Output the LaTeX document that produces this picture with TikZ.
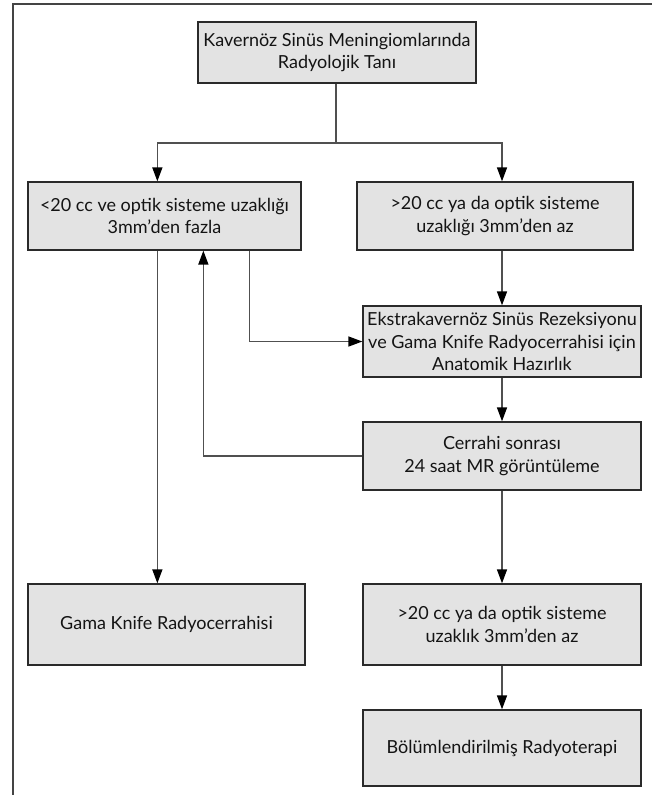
\documentclass[tikz,border=0pt]{standalone}
\usepackage{fontspec}
\setmainfont{Lato}
\usetikzlibrary{arrows.meta,calc}
\definecolor{boxfill}{HTML}{E3E3E3}
\definecolor{boxline}{HTML}{2A2A2A}
\definecolor{conn}{HTML}{505050}
\definecolor{framec}{HTML}{444444}
\definecolor{txt}{HTML}{141414}
\begin{document}
\begin{tikzpicture}[x=1pt,y=-1pt,
  box/.style={draw=boxline,fill=boxfill,line width=1.3pt,rectangle,align=center,
    inner sep=0pt,text=txt,font=\fontsize{18}{22.5}\selectfont},
  conline/.style={draw=conn,line width=1.5pt},
  arr/.style={conline,-{Triangle[length=14pt,width=10pt,fill=black,color=black]}},
  framel/.style={draw=framec,line width=2.4pt}]
\useasboundingbox (0,0) rectangle (652,795);
\fill[white] (0,0) rectangle (652,795);
\draw[framel] (13,795) -- (13,4) -- (652,4);

\node[box,minimum width=278,minimum height=61] (top) at (337,52.5)
  {Kavernöz Sinüs Meningiomlarında\\Radyolojik Tanı};
\node[box,minimum width=273,minimum height=68] (L) at (164.5,216)
  {<20 cc ve optik sisteme uzaklığı\\3mm’den fazla};
\node[box,minimum width=276,minimum height=68] (R) at (495,216)
  {>20 cc ya da optik sisteme\\uzaklığı 3mm’den az};
\node[box,minimum width=278,minimum height=71] (E) at (502,341.5)
  {Ekstrakavernöz Sinüs Rezeksiyonu\\ve Gama Knife Radyocerrahisi için\\Anatomik Hazırlık};
\node[box,minimum width=278,minimum height=68] (C) at (502,456)
  {Cerrahi sonrası\\24 saat MR görüntüleme};
\node[box,minimum width=277,minimum height=81] (G) at (166.5,624.5)
  {Gama Knife Radyocerrahisi};
\node[box,minimum width=278,minimum height=81] (U) at (502,624.5)
  {>20 cc ya da optik sisteme\\uzaklık 3mm’den az};
\node[box,minimum width=278,minimum height=76] (B) at (502,748)
  {Bölümlendirilmiş Radyoterapi};

\coordinate (split) at ([xshift=-1]top.south |- 0,143);
\draw[conline] ([xshift=-1]top.south) -- (split);
\draw[arr] (split) -| ([xshift=130]L.north west);
\draw[arr] (split) -| ([xshift=7]R.north);
\draw[arr] ([xshift=7]R.south) -- (E.north);
\draw[arr] ([xshift=222]L.south west) |- (E.west);
\draw[arr] ([xshift=130]L.south west) -- ([xshift=130]G.north west);
\draw[arr] (C.west) -| ([xshift=176]L.south west);
\draw[arr] (E.south) -- (C.north);
\draw[arr] (C.south) -- (U.north);
\draw[arr] (U.south) -- (B.north);
\end{tikzpicture}
\end{document}
